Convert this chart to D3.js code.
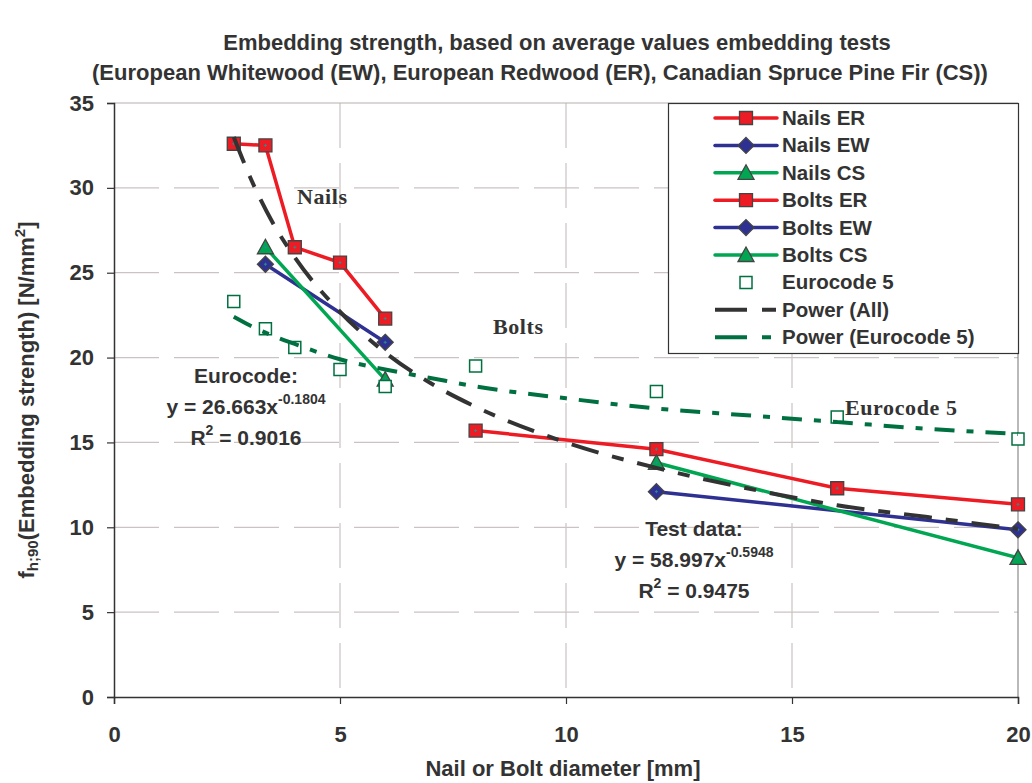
<!DOCTYPE html>
<html>
<head>
<meta charset="utf-8">
<script src="https://d3js.org/d3.v7.min.js"></script>
<style>
  body { margin: 0; background: #fff; }
  text { font-family: "Liberation Sans", Arial, sans-serif; fill: #333; }
</style>
</head>
<body>
<svg id="chart"></svg>
<script>
// data
var nailDiam   = [2.65, 3.35, 4, 5, 6];
var nailsER    = [32.6, 32.5, 26.5, 25.6, 22.3];
var nailDiam2  = [3.35, 6];
var nailsEW    = [25.5, 20.9];
var nailsCS    = [26.5, 18.7];
var boltDiam   = [8, 12, 16, 20];
var boltsER    = [15.7, 14.6, 12.3, 11.35];
var boltDiam2  = [12, 20];
var boltsEW    = [12.1, 9.85];
var boltsCS    = [13.8, 8.2];
var ecDiam     = [2.65, 3.35, 4, 5, 6, 8, 12, 16, 20];
var ec5        = [23.3, 21.7, 20.6, 19.3, 18.3, 19.5, 18.0, 16.5, 15.2];
var trendDiam  = [2.65, 3, 3.5, 4, 5, 6, 7, 8, 10, 12, 14, 16, 18, 20];
var powerAll   = [33.0, 30.7, 28.0, 25.9, 22.7, 20.3, 18.5, 17.1, 15.0, 13.5, 12.3, 11.3, 10.6, 9.9];
var powerEC    = [22.4, 21.9, 21.3, 20.8, 19.9, 19.3, 18.8, 18.3, 17.6, 17.0, 16.6, 16.2, 15.8, 15.5];
var xTicks = [0, 5, 10, 15, 20];
var yTicks = [0, 5, 10, 15, 20, 25, 30, 35];

var width = 1032, height = 783;
var margin = {top: 103, right: 14, bottom: 86, left: 114};

var RED = "#ed1c24", BLUE = "#2e3192", GREEN = "#00a651", DKGREEN = "#007040", DARK = "#333";

var svg = d3.select("#chart").attr("width", width).attr("height", height);

var x = d3.scaleLinear().domain([0, 20]).range([margin.left, width - margin.right]);
var y = d3.scaleLinear().domain([0, 35]).range([height - margin.bottom, margin.top]);

// gridlines
var grid = svg.append("g");
grid.selectAll(".hg").data(yTicks.filter(function(d) { return d > 0 && d < 35; }))
  .enter().append("line")
  .attr("x1", x(0)).attr("x2", x(20))
  .attr("y1", function(d) { return y(d); }).attr("y2", function(d) { return y(d); })
  .attr("stroke", "#cbc3c3").attr("stroke-width", 1.2).attr("stroke-dasharray", "45,15");
grid.selectAll(".vg").data(xTicks.filter(function(d) { return d > 0 && d < 20; }))
  .enter().append("line")
  .attr("y1", y(35)).attr("y2", y(0))
  .attr("x1", function(d) { return x(d); }).attr("x2", function(d) { return x(d); })
  .attr("stroke", "#cbc3c3").attr("stroke-width", 1.2).attr("stroke-dasharray", "45,15");
// top and right frame
svg.append("line").attr("x1", x(0)).attr("x2", x(20)).attr("y1", y(35)).attr("y2", y(35))
  .attr("stroke", "#b8b0b0").attr("stroke-width", 1.2);
svg.append("line").attr("x1", x(20)).attr("x2", x(20)).attr("y1", y(35)).attr("y2", y(0))
  .attr("stroke", "#8a8a8a").attr("stroke-width", 1.2);

// axes
var xAxis = svg.append("g")
  .attr("transform", "translate(0," + y(0) + ")")
  .call(d3.axisBottom(x).tickValues(xTicks).tickSize(7).tickPadding(22));
var yAxis = svg.append("g")
  .attr("transform", "translate(" + x(0) + ",0)")
  .call(d3.axisLeft(y).tickValues(yTicks).tickSize(7).tickPadding(13));
[xAxis, yAxis].forEach(function(a) {
  a.select(".domain").attr("stroke", DARK).attr("stroke-width", 1.5);
  a.selectAll(".tick line").attr("stroke", DARK).attr("stroke-width", 1.2);
  a.selectAll(".tick text").attr("font-family", "Liberation Sans, Arial, sans-serif")
    .attr("font-size", 22).attr("font-weight", "bold").attr("fill", DARK);
});

var line = d3.line().x(function(d) { return x(d[0]); }).y(function(d) { return y(d[1]); });
var smooth = d3.line().curve(d3.curveMonotoneX)
  .x(function(d) { return x(d[0]); }).y(function(d) { return y(d[1]); });

function pairs(xs, ys) { return xs.map(function(v, i) { return [v, ys[i]]; }); }

var squarePath = "M-6.5,-6.5H6.5V6.5H-6.5Z";
var diamondPath = "M0,-8L8,0L0,8L-8,0Z";
var trianglePath = "M0,-8L8,6.5H-8Z";

function drawSeries(pts, color, shape) {
  svg.append("path").datum(pts).attr("d", line)
    .attr("fill", "none").attr("stroke", color).attr("stroke-width", 3.5);
  var m = svg.append("g").selectAll("g").data(pts).enter().append("g")
    .attr("transform", function(d) { return "translate(" + x(d[0]) + "," + y(d[1]) + ")"; });
  m.append("path").attr("d", shape).attr("fill", color)
    .attr("stroke", "#444").attr("stroke-width", 1.3);
  m.append("path").attr("d", "M-1.5,0H1.5M0,-1.5V1.5")
    .attr("stroke", "#2a8c8c").attr("stroke-width", 1);
}

drawSeries(pairs(nailDiam, nailsER), RED, squarePath);
drawSeries(pairs(nailDiam2, nailsEW), BLUE, diamondPath);
drawSeries(pairs(nailDiam2, nailsCS), GREEN, trianglePath);
drawSeries(pairs(boltDiam, boltsER), RED, squarePath);
drawSeries(pairs(boltDiam2, boltsEW), BLUE, diamondPath);
drawSeries(pairs(boltDiam2, boltsCS), GREEN, trianglePath);

// Eurocode 5 points
svg.append("g").selectAll("path").data(pairs(ecDiam, ec5)).enter().append("path")
  .attr("transform", function(d) { return "translate(" + x(d[0]) + "," + y(d[1]) + ")"; })
  .attr("d", "M-6,-6H6V6H-6Z").attr("fill", "#fff")
  .attr("stroke", DKGREEN).attr("stroke-width", 1.5);

// trend lines
svg.append("path").datum(pairs(trendDiam, powerEC)).attr("d", smooth)
  .attr("fill", "none").attr("stroke", DKGREEN).attr("stroke-width", 4)
  .attr("stroke-dasharray", "20,12,7,12");
svg.append("path").datum(pairs(trendDiam, powerAll)).attr("d", smooth)
  .attr("fill", "none").attr("stroke", DARK).attr("stroke-width", 4)
  .attr("stroke-dasharray", "28,14,12,14");

// legend
var lg = svg.append("g");
lg.append("rect").attr("x", 668.5).attr("y", 103.5).attr("width", 350).attr("height", 250)
  .attr("fill", "#fff").attr("stroke", DARK).attr("stroke-width", 1.2);
var legendItems = [
  {name: "Nails ER", color: RED, shape: squarePath},
  {name: "Nails EW", color: BLUE, shape: diamondPath},
  {name: "Nails CS", color: GREEN, shape: trianglePath},
  {name: "Bolts ER", color: RED, shape: squarePath},
  {name: "Bolts EW", color: BLUE, shape: diamondPath},
  {name: "Bolts CS", color: GREEN, shape: trianglePath},
  {name: "Eurocode 5", ec: true},
  {name: "Power (All)", trend: DARK, dash: "32,15,14,15"},
  {name: "Power (Eurocode 5)", trend: DKGREEN, dash: "32,15,9,15"}
];
legendItems.forEach(function(it, i) {
  var cy = 118 + i * 27.4;
  var g = lg.append("g").attr("transform", "translate(0," + cy + ")");
  if (it.ec) {
    g.append("path").attr("transform", "translate(746,0)").attr("d", "M-6,-6H6V6H-6Z")
      .attr("fill", "#fff").attr("stroke", DKGREEN).attr("stroke-width", 1.5);
  } else if (it.trend) {
    g.append("line").attr("x1", 715).attr("x2", 777).attr("y1", 0).attr("y2", 0)
      .attr("stroke", it.trend).attr("stroke-width", 4).attr("stroke-dasharray", it.dash);
  } else {
    g.append("line").attr("x1", 715).attr("x2", 777).attr("y1", 0).attr("y2", 0)
      .attr("stroke", it.color).attr("stroke-width", 3.5).attr("stroke-linecap", "round");
    g.append("path").attr("transform", "translate(746,0)").attr("d", it.shape)
      .attr("fill", it.color).attr("stroke", "#444").attr("stroke-width", 1.3);
  }
  g.append("text").attr("x", 782).attr("y", 7).attr("font-size", 20.5)
    .attr("font-weight", "bold").text(it.name);
});

// titles
svg.append("text").attr("x", 557).attr("y", 50).attr("text-anchor", "middle")
  .attr("font-size", 22).attr("font-weight", "bold")
  .text("Embedding strength, based on average values embedding tests");
svg.append("text").attr("x", 540).attr("y", 80).attr("text-anchor", "middle")
  .attr("font-size", 22).attr("font-weight", "bold")
  .text("(European Whitewood (EW), European Redwood (ER), Canadian Spruce Pine Fir (CS))");

svg.append("text").attr("x", 563).attr("y", 776).attr("text-anchor", "middle")
  .attr("font-size", 22).attr("font-weight", "bold").text("Nail or Bolt diameter [mm]");

var yl = svg.append("text").attr("transform", "translate(34,400) rotate(-90)")
  .attr("text-anchor", "middle").attr("font-size", 22).attr("font-weight", "bold");
yl.append("tspan").text("f");
yl.append("tspan").attr("font-size", 15).attr("dy", 4).text("h;90");
yl.append("tspan").attr("dy", -4).text("(Embedding strength) [N/mm");
yl.append("tspan").attr("font-size", 15).attr("dy", -9).text("2");
yl.append("tspan").attr("dy", 9).text("]");

// serif labels
function serif(t, px, py) {
  svg.append("text").attr("x", px).attr("y", py)
    .attr("font-size", 22).attr("font-weight", "bold").attr("letter-spacing", 0.6)
    .style("font-family", "Liberation Serif, serif").text(t);
}
serif("Nails", 297, 204);
serif("Bolts", 493, 334);
serif("Eurocode 5", 845, 415);

// equations
function eqBlock(cx, base, head, coef, expo, r2) {
  svg.append("text").attr("x", cx).attr("y", base).attr("text-anchor", "middle")
    .attr("font-size", 21).attr("font-weight", "bold").text(head);
  var e = svg.append("text").attr("x", cx).attr("y", base + 31).attr("text-anchor", "middle")
    .attr("font-size", 21).attr("font-weight", "bold");
  e.append("tspan").text("y = " + coef + "x");
  e.append("tspan").attr("font-size", 14).attr("dy", -10).text(expo);
  var r = svg.append("text").attr("x", cx).attr("y", base + 62).attr("text-anchor", "middle")
    .attr("font-size", 21).attr("font-weight", "bold");
  r.append("tspan").text("R");
  r.append("tspan").attr("font-size", 14).attr("dy", -10).text("2");
  r.append("tspan").attr("dy", 10).text(" = " + r2);
}
eqBlock(246, 383, "Eurocode:", "26.663", "-0.1804", "0.9016");
eqBlock(694, 536, "Test data:", "58.997", "-0.5948", "0.9475");
</script>
</body>
</html>
